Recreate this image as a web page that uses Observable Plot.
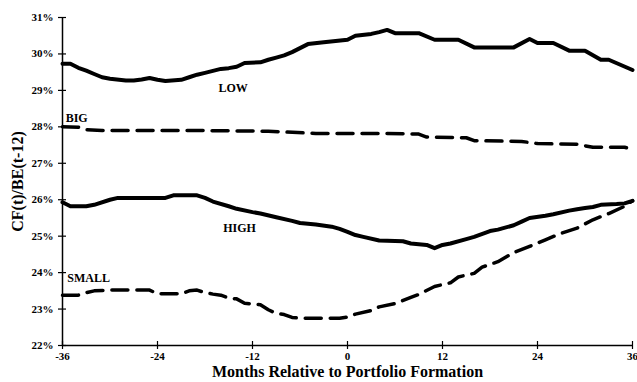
<!DOCTYPE html>
<html>
<head>
<meta charset="utf-8">
<script src="https://cdn.jsdelivr.net/npm/d3@7"></script>
<script src="https://cdn.jsdelivr.net/npm/@observablehq/plot@0.6"></script>
<style>
  html, body { margin: 0; padding: 0; background: #fff; }
</style>
</head>
<body>
<div id="chart"></div>
<script>
// ---- data ----
const lowMonths = [-36,-35,-34,-33,-32,-31,-30,-28,-27,-26,-25,-24,-23,-21,-20,-19,-18,-16,-15,-14,-13,-11,-10,-9,-8,-7,-6,-5,-3,0,1,3,4,5,6,9,11,14,16,21,23,24,26,28,30,32,33,36];
const lowValues = [29.73,29.73,29.62,29.54,29.45,29.36,29.32,29.27,29.27,29.3,29.34,29.29,29.26,29.29,29.36,29.43,29.48,29.59,29.61,29.65,29.75,29.77,29.84,29.9,29.96,30.05,30.16,30.27,30.32,30.39,30.5,30.55,30.6,30.66,30.57,30.57,30.39,30.39,30.18,30.18,30.41,30.3,30.3,30.09,30.09,29.84,29.84,29.56];

const bigMonths = [-36,-34,-33,-31,-20,-10,-4,5,9,10,15,16,22,24,29,31,35,36];
const bigValues = [28.0,27.99,27.92,27.9,27.9,27.88,27.82,27.82,27.8,27.72,27.7,27.62,27.6,27.54,27.52,27.44,27.44,27.38];

const highMonths = [-36,-35,-33,-32,-30,-29,-23,-22,-19,-18,-17,-15,-14,-12,-11,-9,-7,-6,-4,-2,-1,0,1,2,4,7,8,10,11,12,13,15,16,18,19,21,22,23,25,26,28,29,30,31,32,34,35,36];
const highValues = [25.93,25.82,25.82,25.86,26.0,26.05,26.05,26.12,26.12,26.05,25.95,25.82,25.75,25.66,25.62,25.52,25.42,25.36,25.32,25.26,25.2,25.12,25.03,24.98,24.88,24.86,24.8,24.76,24.67,24.76,24.8,24.92,24.98,25.14,25.18,25.3,25.4,25.5,25.56,25.6,25.7,25.74,25.77,25.8,25.86,25.88,25.9,25.97];

const smallMonths = [-36,-34,-33,-32,-30,-25,-24,-21,-20,-19,-18,-17,-16,-15,-14,-13,-11,-10,-9,-8,-7,-6,-1,0,1,3,4,6,8,9,11,13,14,16,17,19,21,23,25,27,29,31,33,35,36];
const smallValues = [23.38,23.38,23.45,23.5,23.52,23.52,23.42,23.42,23.5,23.52,23.45,23.41,23.38,23.3,23.28,23.16,23.12,22.98,22.88,22.85,22.77,22.75,22.75,22.78,22.86,22.96,23.06,23.15,23.32,23.4,23.62,23.72,23.88,23.98,24.15,24.3,24.55,24.72,24.9,25.08,25.22,25.45,25.62,25.82,25.97];

const xTicks = [-36,-24,-12,0,12,24,36];
const yTicks = [22,23,24,25,26,27,28,29,30,31];

const labelNames = ["LOW","BIG","HIGH","SMALL"];
const labelMonths = [-16.3,-35.6,-15.7,-35.4];
const labelValues = [29.05,28.25,25.23,23.84];

const xTitle = "Months Relative to Portfolio Formation";
const yTitle = "CF(t)/BE(t-12)";

// ---- build tables ----
const toRows = (ms, vs) => ms.map((m, i) => ({month: m, value: vs[i]}));
const low = toRows(lowMonths, lowValues);
const big = toRows(bigMonths, bigValues);
const high = toRows(highMonths, highValues);
const small = toRows(smallMonths, smallValues);
const labels = labelNames.map((n, i) => ({name: n, month: labelMonths[i], value: labelValues[i]}));

const font = "'Liberation Serif', 'Times New Roman', serif";

const chart = Plot.plot({
  width: 637,
  height: 382,
  marginLeft: 62,
  marginRight: 5,
  marginTop: 17,
  marginBottom: 37,
  style: {fontFamily: font, fontWeight: "bold", color: "#000", background: "#fff"},
  x: {domain: [-36, 36]},
  y: {domain: [22, 31]},
  marks: [
    // axis lines
    Plot.ruleX([-36], {stroke: "#000", strokeWidth: 1.5}),
    Plot.ruleY([22], {stroke: "#000", strokeWidth: 1.5}),
    // y ticks + labels
    Plot.axisY({ticks: yTicks, tickFormat: d => d + "%", tickSize: 4, tickPadding: 5, fontSize: 11, label: null, stroke: "#000", strokeWidth: 1.2}),
    Plot.axisY({ticks: yTicks, tickFormat: () => "", tickSize: -4, label: null, stroke: "#000", strokeWidth: 1.2}),
    Plot.axisY({ticks: [], tickSize: 0, label: yTitle, labelAnchor: "center", labelArrow: "none", labelOffset: 51, fontSize: 16}),
    // x ticks + labels
    Plot.axisX({ticks: xTicks, tickFormat: d => String(d), tickSize: 4, tickPadding: 3, fontSize: 11, label: null, stroke: "#000", strokeWidth: 1.2}),
    Plot.axisX({ticks: xTicks, tickFormat: () => "", tickSize: -4, label: null, stroke: "#000", strokeWidth: 1.2}),
    Plot.axisX({ticks: [], tickSize: 0, label: xTitle, labelAnchor: "center", labelArrow: "none", labelOffset: 31, fontSize: 16}),
    // series
    Plot.line(low, {x: "month", y: "value", stroke: "#000", strokeWidth: 4, strokeLinejoin: "round"}),
    Plot.line(high, {x: "month", y: "value", stroke: "#000", strokeWidth: 4, strokeLinejoin: "round"}),
    Plot.line(big, {x: "month", y: "value", stroke: "#000", strokeWidth: 3.5, strokeDasharray: "16,9"}),
    Plot.line(small, {x: "month", y: "value", stroke: "#000", strokeWidth: 3.5, strokeDasharray: "16,9"}),
    // series labels
    Plot.text(labels, {x: "month", y: "value", text: "name", textAnchor: "start", fontSize: 12, fontWeight: "bold", fill: "#000"})
  ]
});
document.getElementById("chart").appendChild(chart);
</script>
</body>
</html>
